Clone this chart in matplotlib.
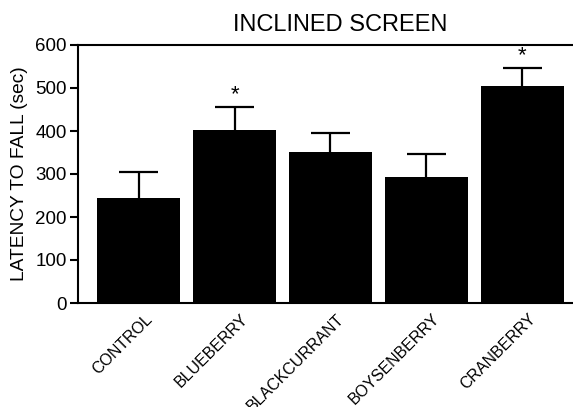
import matplotlib
matplotlib.use("Agg")
import matplotlib.pyplot as plt
import matplotlib.transforms as mtransforms

plt.rcParams['font.family'] = ['Liberation Sans', 'DejaVu Sans']

categories = ["CONTROL", "BLUEBERRY", "BLACKCURRANT", "BOYSENBERRY", "CRANBERRY"]
means = [245, 403, 350, 292, 504]
errors = [59, 52, 45, 54, 42]
significant = [False, True, False, False, True]
yticks = [0, 100, 200, 300, 400, 500, 600]

fig = plt.figure(figsize=(5.73, 4.07), dpi=100)
ax = fig.add_axes([78/573, 1-303/407, 1-78/573, (303-45)/407])

x = list(range(len(categories)))
ax.bar(x, means, width=0.866, color='black', zorder=2)
tops = [m + e for m, e in zip(means, errors)]
ax.vlines(x, means, tops, colors='black', linewidth=1.6, zorder=1)
cap = 0.205
ax.hlines(tops, [xi - cap for xi in x], [xi + cap for xi in x], colors='black', linewidth=1.6, zorder=1)
for xi, t, s in zip(x, tops, significant):
    if s:
        ax.text(xi, t + 4, '*', ha='center', va='bottom', fontsize=16)

ax.set_xlim(-0.632, 4.529)
ax.set_ylim(0, 600)
ax.set_yticks(yticks)
ax.tick_params(axis='y', direction='out', length=6, width=1.5, labelsize=13.5, pad=2)
ax.set_xticks(x)
ax.set_xticklabels(categories, rotation=45, ha='right', rotation_mode='anchor', fontsize=11.5)
ax.tick_params(axis='x', length=0, pad=8)
offset = mtransforms.ScaledTranslation(6/100, 3/100, fig.dpi_scale_trans)
for lab in ax.get_xticklabels():
    lab.set_transform(lab.get_transform() + offset)
ax.spines['right'].set_visible(False)
for s in ['left', 'top', 'bottom']:
    ax.spines[s].set_linewidth(1.5)
ax.set_ylabel('LATENCY TO FALL (sec)', fontsize=13.8, labelpad=5)
fig.text(340/573, 1-25/407, 'INCLINED SCREEN', ha='center', va='center', fontsize=17)

fig.savefig('out.png', dpi=100)
